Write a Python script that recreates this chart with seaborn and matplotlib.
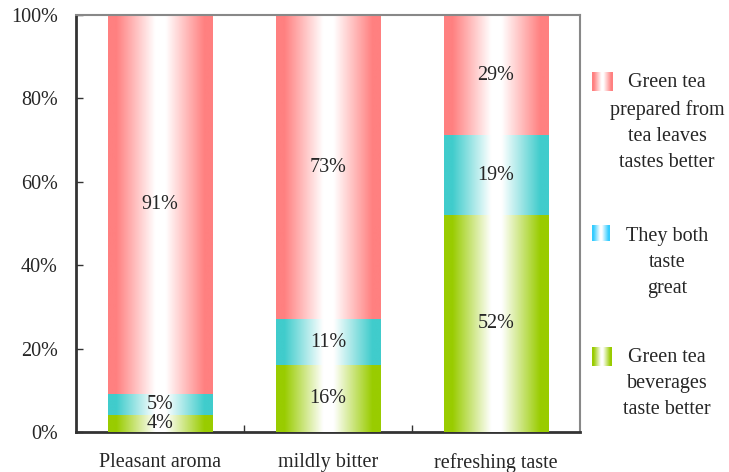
import numpy as np
import pandas as pd
import matplotlib
matplotlib.use("Agg")
import matplotlib.pyplot as plt
from matplotlib.colors import LinearSegmentedColormap
import seaborn as sns

# Survey data: share of respondents per attribute
categories = ["Pleasant aroma", "mildly bitter", "refreshing taste"]
beverages_better = [4, 16, 52]
both_great = [5, 11, 19]
leaves_better = [91, 73, 29]

series_names = ["Green tea\nprepared from\ntea leaves\ntastes better",
                "They both\ntaste\ngreat",
                "Green tea\nbeverages\ntaste better"]
yticks = [0, 20, 40, 60, 80, 100]

sns.set_style("white")
plt.rcParams["font.family"] = ["Liberation Serif", "DejaVu Serif"]
FS = 14.5

PINK = "#ff8080"
CYAN = "#40cccc"
CYAN_LEG = "#33ccff"
GREEN = "#99cc00"


def gradient_cmap(c):
    return LinearSegmentedColormap.from_list(
        "g", [(0.0, c), (0.08, c), (0.45, "white"), (0.55, "white"),
              (0.92, c), (1.0, c)])


grad = np.linspace(0, 1, 256).reshape(1, -1)

fig = plt.figure(figsize=(7.29, 4.72), dpi=100)
ax = fig.add_axes([76 / 729, 1 - 432 / 472, (580 - 76) / 729, (432 - 15) / 472])

df = pd.DataFrame({
    "cat": categories,
    "green": beverages_better,
    "cyan": np.add(beverages_better, both_great),
    "pink": np.add(np.add(beverages_better, both_great), leaves_better),
})

layers = [("pink", PINK), ("cyan", CYAN), ("green", GREEN)]
for z, (col, color) in enumerate(layers):
    n_before = len(ax.patches)
    sns.barplot(data=df, x="cat", y=col, color=color, width=0.625,
                ax=ax, errorbar=None)
    for p in ax.patches[n_before:]:
        x0, y0 = p.get_x(), p.get_y()
        w, h = p.get_width(), p.get_height()
        ax.imshow(grad, cmap=gradient_cmap(color), aspect="auto",
                  extent=[x0, x0 + w, y0, y0 + h], zorder=2 + z,
                  interpolation="bilinear")
        p.set_visible(False)

# value labels in the middle of each segment
bottom = np.zeros(len(categories))
for vals in [beverages_better, both_great, leaves_better]:
    for i, v in enumerate(vals):
        ax.text(i, bottom[i] + v / 2, f"{v}%", ha="center", va="center",
                fontsize=FS, zorder=10)
    bottom += np.array(vals)

ax.set_xlim(-0.5, 2.5)
ax.set_ylim(0, 100)
ax.set_yticks(yticks)
ax.set_yticklabels([f"{t}%" for t in yticks], fontsize=FS)
ax.set_xticks(range(len(categories)))
ax.set_xticklabels(categories, fontsize=FS)
ax.set_xticks([0.5, 1.5], minor=True)
ax.set_xlabel("")
ax.set_ylabel("")
ax.tick_params(axis="x", which="major", length=0, pad=15)
ax.tick_params(axis="x", which="minor", direction="in", length=5,
               width=1, color="#333333", bottom=True)
ax.tick_params(axis="y", direction="in", length=5, width=1,
               color="#333333", left=True, pad=13)

for side in ["left", "bottom"]:
    ax.spines[side].set_color("#333333")
    ax.spines[side].set_linewidth(2)
for side in ["top", "right"]:
    ax.spines[side].set_color("#888888")
    ax.spines[side].set_linewidth(1.5)
    ax.spines[side].set_visible(True)

# legend: gradient swatches with centred multi-line labels
W, H = 729, 472
legend_items = [
    (series_names[0], PINK, (592, 72, 21, 19), 122.5),
    (series_names[1], CYAN_LEG, (592, 225, 18, 16), 262.5),
    (series_names[2], GREEN, (592, 347, 20, 19), 383.5),
]
for label, color, (lx, ly, lw, lh), ty in legend_items:
    sax = fig.add_axes([lx / W, 1 - (ly + lh) / H, lw / W, lh / H])
    sax.imshow(grad, cmap=gradient_cmap(color), aspect="auto",
               interpolation="bilinear")
    sax.axis("off")
    fig.text(667 / W, 1 - ty / H, label, ha="center", va="center",
             multialignment="center", fontsize=FS, linespacing=1.5)

fig.savefig("out.png", dpi=100)
